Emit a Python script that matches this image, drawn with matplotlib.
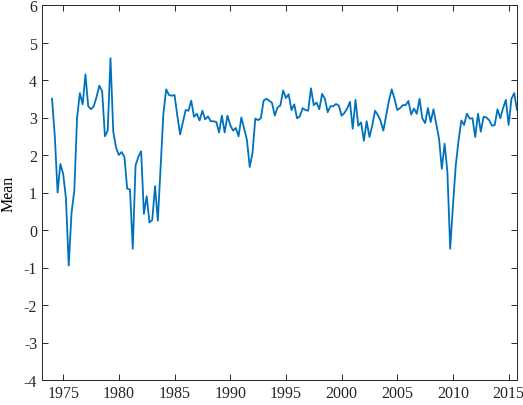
import numpy as np
import matplotlib
matplotlib.use('Agg')
import matplotlib.pyplot as plt

# quarterly means, 1974Q1 .. 2015Q4
start_year = 1974
vals_1974_1984 = [
    3.5, 2.5, 1.0, 1.76,
    1.5, 0.85, -0.95, 0.45,
    1.05, 3.0, 3.65, 3.35,
    4.15, 3.3, 3.22, 3.3,
    3.55, 3.85, 3.7, 2.5,
    2.65, 4.58, 2.62, 2.2,
    2.0, 2.08, 1.95, 1.1,
    1.08, -0.5, 1.72, 1.95,
    2.1, 0.43, 0.9, 0.2,
    0.27, 1.17, 0.25, 1.7,
]
vals_1984_1994 = [
    3.1, 3.75, 3.6, 3.58,
    3.6, 3.05, 2.55, 2.88,
    3.2, 3.18, 3.45, 3.02,
    3.1, 2.92, 3.18, 2.95,
    3.03, 2.9, 2.9, 2.88,
    2.6, 3.05, 2.6, 3.05,
    2.8, 2.65, 2.72, 2.5,
    3.0, 2.7, 2.4, 1.68,
    2.05, 2.97, 2.93, 2.98,
    3.45, 3.5, 3.45, 3.39,
]
vals_1994_2004 = [
    3.05, 3.27, 3.32, 3.72,
    3.52, 3.62, 3.2, 3.35,
    2.98, 3.03, 3.25, 3.2,
    3.18, 3.78, 3.33, 3.4,
    3.22, 3.63, 3.5, 3.14,
    3.3, 3.3, 3.36, 3.32,
    3.05, 3.12, 3.24, 3.42,
    2.7, 3.47, 2.78, 2.87,
    2.38, 2.9, 2.48, 2.78,
    3.18, 3.07, 2.91, 2.65,
]
vals_2004_2015 = [
    3.05, 3.45, 3.75, 3.5,
    3.2, 3.25, 3.33, 3.33,
    3.44, 3.08, 3.24, 3.1,
    3.5, 2.98, 2.85, 3.25,
    2.88, 3.22, 2.82, 2.43,
    1.63, 2.3, 1.55, -0.5,
    0.65, 1.72, 2.38, 2.92,
    2.8, 3.1, 2.97, 2.98,
    2.48, 3.1, 2.62, 3.02,
    3.0, 2.93, 2.78, 2.8,
    3.22, 2.98, 3.25, 3.47,
    2.8, 3.5, 3.65, 3.2,
]
mean_vals = vals_1974_1984 + vals_1984_1994 + vals_1994_2004 + vals_2004_2015
dates = start_year + np.arange(len(mean_vals)) / 4.0

x_ticks = [1975, 1980, 1985, 1990, 1995, 2000, 2005, 2010, 2015]
y_ticks = [-4, -3, -2, -1, 0, 1, 2, 3, 4, 5, 6]

plt.rcParams['font.family'] = ['Liberation Serif', 'DejaVu Serif']
plt.rcParams['axes.unicode_minus'] = False

fig = plt.figure(figsize=(5.23, 4.06), dpi=100)
ax = fig.add_axes([42 / 523, 25 / 406, 475 / 523, 375 / 406])

ax.plot(dates, mean_vals, color='#0072BD', linewidth=1.3)

ax.set_xlim(1973.1, 2015.75)
ax.set_ylim(-4, 6)
ax.set_xticks(x_ticks)
ax.set_yticks(y_ticks)
ax.set_ylabel('Mean', fontsize=11.5, labelpad=5)

ax.tick_params(direction='in', top=True, right=True, length=4, width=0.7,
               labelsize=11.5, colors='#262626', labelcolor='#262626')
for s in ax.spines.values():
    s.set_color('#262626')
    s.set_linewidth(0.7)

fig.savefig('out.png', dpi=100)
